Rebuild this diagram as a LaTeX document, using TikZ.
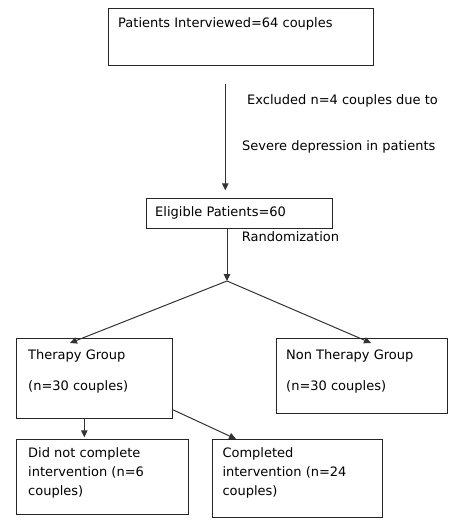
\documentclass[tikz,border=0pt]{standalone}
\usepackage{fontspec}
\setmainfont{DejaVu Sans}
\usetikzlibrary{arrows.meta}
\begin{document}
\begin{tikzpicture}[x=1pt,y=-1pt,
  font=\fontsize{13}{19}\selectfont,
  box/.style={draw=black!85, line width=0.8pt, inner sep=0pt, anchor=north west},
  txt/.style={anchor=mid west, inner sep=0pt, text=black},
  arr/.style={draw=black!80, line width=1pt, -{Triangle[width=6.5pt,length=7pt]}}]
\useasboundingbox (0,0) rectangle (459,529);
% boxes
\node[box, minimum width=265pt, minimum height=57pt] (top) at (108,8) {};
\node[box, minimum width=186pt, minimum height=29.5pt] (elig) at (145.7,198.3) {};
\node[box, minimum width=156pt, minimum height=80pt] (ther) at (16.3,338.3) {};
\node[box, minimum width=170.4pt, minimum height=75pt] (nther) at (276.3,338.3) {};
\node[box, minimum width=172pt, minimum height=75pt] (dnc) at (16.3,439.3) {};
\node[box, minimum width=170pt, minimum height=78pt] (comp) at (212.3,439.3) {};
% texts
\node[txt] (t1) at (118,24.5) {Patients Interviewed=64 couples};
\node[txt] (t2) at (247,102) {Excluded n=4 couples due to};
\node[txt] (t3) at (242,148) {Severe depression in patients};
\node[txt] (t4) at (155,214) {Eligible Patients=60};
\node[txt] (t5) at (241.7,238.5) {Randomization};
\node[txt] (t6) at (28,356.5) {Therapy Group};
\node[txt] (t7) at (28,388) {(n=30 couples)};
\node[txt] (t8) at (286,356.5) {Non Therapy Group};
\node[txt] (t9) at (286,388) {(n=30 couples)};
\node[txt, align=left, anchor=north west] (t10) at (28,447) {Did not complete\\intervention (n=6\\couples)};
\node[txt, align=left, anchor=north west] (t11) at (222.3,447) {Completed\\intervention (n=24\\couples)};
% connectors
\coordinate (a1) at (225.3,84);
\coordinate (br) at (227,281);
\coordinate (tl) at (70,343);
\coordinate (tr) at (371,343);
\coordinate (cs) at (172.3,409.5);
\coordinate (ce) at (236,439);
\draw[arr, shorten >=8pt] (a1) -- (a1 |- elig.north);
\draw[arr] (elig.south -| br) -- (br);
\draw[arr] (br) -- (tl);
\draw[arr] (br) -- (tr);
\draw[arr, shorten >=2pt] (ther.south -| 84.3,0) -- (dnc.north -| 84.3,0);
\draw[arr] (cs) -- (ce);
\end{tikzpicture}
\end{document}
